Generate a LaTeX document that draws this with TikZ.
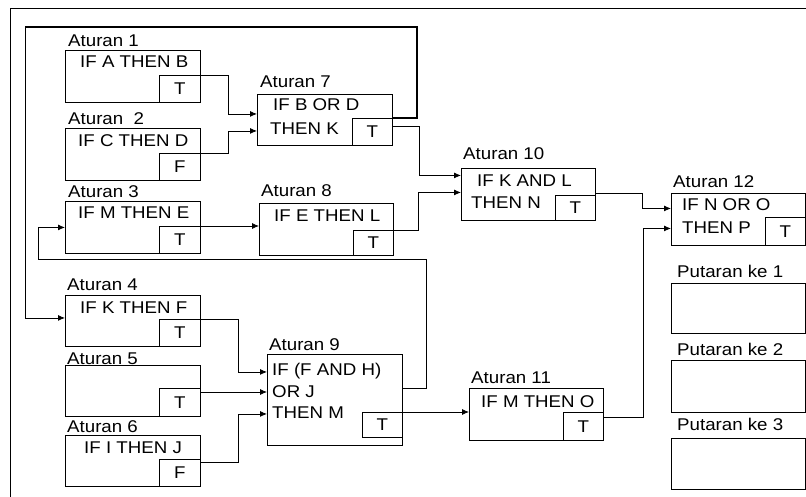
\documentclass[tikz,border=0pt]{standalone}
\usepackage{fontspec}
\setmainfont{Liberation Sans}[FakeStretch=1.1]
\usetikzlibrary{arrows.meta, positioning, calc}

\begin{document}
\begin{tikzpicture}[
  x=1pt, y=-1pt,
  font=\fontsize{17}{19}\selectfont,
  rule/.style={draw, line width=0.9pt, anchor=north west, minimum width=135pt, minimum height=52pt, inner sep=0pt},
  flag/.style={draw, line width=0.9pt, anchor=south east, minimum width=41pt, minimum height=27pt, inner sep=0pt},
  ttl/.style={anchor=base west, inner sep=0pt},
  txt/.style={anchor=base west, inner sep=0pt},
  arr/.style={draw, line width=0.8pt, -{Latex[length=7pt, width=6pt]}},
  fbline/.style={draw, line width=1.8pt}
]
\useasboundingbox (0,0) rectangle (806,497);
\draw[line width=1pt] (10,497) -- (10,9) -- (806,9);

% left column
\node[rule] (r1) at (65,50) {};
\node[flag] (r1t) at (r1.south east) {T};
\node[ttl] (r1n) at (68,47) {Aturan 1};
\node[txt] (r1a) at (80,68) {IF A THEN B};

\node[rule] (r2) at (65,128) {};
\node[flag] (r2t) at (r2.south east) {F};
\node[ttl] (r2n) at (68,125) {Aturan\ \ 2};
\node[txt] (r2a) at (78,147) {IF C THEN D};

\node[rule] (r3) at (65,201) {};
\node[flag] (r3t) at (r3.south east) {T};
\node[ttl] (r3n) at (68,198) {Aturan 3};
\node[txt] (r3a) at (78,219) {IF M THEN E};

\node[rule, minimum height=51pt] (r4) at (65,295) {};
\node[flag] (r4t) at (r4.south east) {T};
\node[ttl] (r4n) at (67,290) {Aturan 4};
\node[txt] (r4a) at (80,313) {IF K THEN F};

\node[rule, minimum height=51pt] (r5) at (65,365) {};
\node[flag, minimum height=28pt] (r5t) at (r5.south east) {T};
\node[ttl] (r5n) at (67,364) {Aturan 5};

\node[rule, minimum height=51pt] (r6) at (65,435) {};
\node[flag] (r6t) at (r6.south east) {F};
\node[ttl] (r6n) at (67,432) {Aturan 6};
\node[txt] (r6a) at (84,453) {IF I THEN J};

% middle column
\node[rule, minimum height=51pt] (r7) at (257,94) {};
\node[flag, minimum width=40pt] (r7t) at (r7.south east) {T};
\node[ttl] (r7n) at (260,88) {Aturan 7};
\node[txt] (r7a) at (273,111) {IF B OR D};
\node[txt] (r7b) at (270,135) {THEN K};

\node[rule, minimum width=134pt] (r8) at (259,203) {};
\node[flag, minimum width=40pt, minimum height=25pt] (r8t) at (r8.south east) {T};
\node[ttl] (r8n) at (261,197) {Aturan 8};
\node[txt] (r8a) at (274,222) {IF E THEN L};

\node[rule, minimum height=91pt] (r9) at (267,354) {};
\node[flag, minimum width=40pt, minimum height=25pt] (r9t) at ([yshift=8pt]r9.south east) {T};
\node[ttl] (r9n) at (269,350) {Aturan 9};
\node[txt] (r9a) at (272,375) {IF (F AND H)};
\node[txt] (r9b) at (272,397) {OR J};
\node[txt] (r9c) at (272,418) {THEN M};

\node[rule, minimum width=134pt] (r10) at (461,168) {};
\node[flag, minimum width=40pt, minimum height=25pt] (r10t) at (r10.south east) {T};
\node[ttl] (r10n) at (463,160) {Aturan 10};
\node[txt] (r10a) at (477,187) {IF K AND L};
\node[txt] (r10b) at (471,209) {THEN N};

\node[rule, minimum width=134pt] (r11) at (469,388) {};
\node[flag, minimum width=40pt, minimum height=28pt] (r11t) at (r11.south east) {T};
\node[ttl] (r11n) at (471,383) {Aturan 11};
\node[txt] (r11a) at (481,407) {IF M THEN O};

% right column
\node[rule, minimum width=134pt] (r12) at (671,193) {};
\node[flag, minimum width=40pt, minimum height=28pt] (r12t) at (r12.south east) {T};
\node[ttl] (r12n) at (673,188) {Aturan 12};
\node[txt] (r12a) at (682,211) {IF N OR O};
\node[txt] (r12b) at (682,234) {THEN P};

\node[rule, minimum width=134pt, minimum height=50pt] (p1) at (671,283) {};
\node[ttl] (p1n) at (677,277) {Putaran ke 1};
\node[rule, minimum width=134pt] (p2) at (671,360) {};
\node[ttl] (p2n) at (677,355) {Putaran ke 2};
\node[rule, minimum width=134pt, minimum height=51pt] (p3) at (671,438) {};
\node[ttl] (p3n) at (677,430) {Putaran ke 3};

% connectors
\draw[arr] (r1t.north east) -- ++(27,0) |- ([yshift=6pt]r7.west);
\draw[arr] (r2t.north east) -- ++(27,0) |- ([yshift=-11pt]r7.west);
\draw[arr] (r3t.north east) -- (r3t.north east -| r8.west);
\draw[arr] ([yshift=-8pt]r7t.north east) -- ++(26,0) |- ([yshift=19pt]r10.west);
\draw[arr] (r8t.north east) -- ++(24,0) |- ([yshift=2pt]r10.west);
\draw[arr] ([yshift=2pt]r10t.north east) -- ++(46,0) |- ([yshift=11pt]r12.west);
\draw[arr] ([yshift=-5pt]r11t.north east) -- ++(39,0) |- ([yshift=-9pt]r12.west);
\draw[arr] (r4t.north east) -- ++(37,0) |- ([yshift=28pt]r9.west);
\coordinate (r5o) at ([yshift=-4pt]r5t.north east);
\draw[arr] (r5o) -- (r5o -| r9.west);
\draw[arr] ([yshift=-3pt]r6t.north east) -- ++(37,0) |- ([yshift=-14pt]r9.west);
\draw[arr] (r9t.north east) -- (r9t.north east -| r11.west);

% loop back to Aturan 3
\coordinate (lpA) at (426,259);
\coordinate (lpB) at (38,259);
\draw[arr] ([yshift=12pt]r9.east) -| (lpA) -- (lpB) |- (r3.west);

% feedback to Aturan 4
\coordinate (fbA) at (417,27);
\coordinate (fbB) at (25,27);
\draw[fbline] (r7t.north east) -| (fbA) -- (fbB);
\draw[arr] (fbB) |- ([yshift=3pt]r4.west);
\end{tikzpicture}
\end{document}
